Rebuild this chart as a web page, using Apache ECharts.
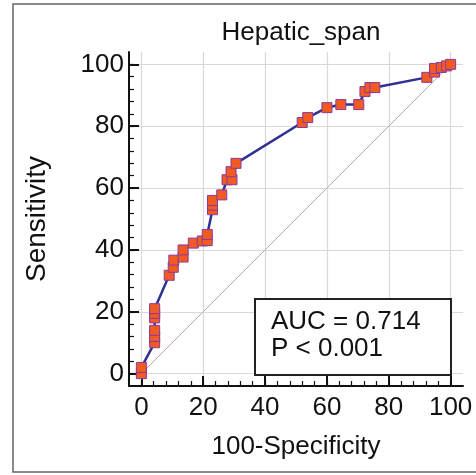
<!DOCTYPE html>
<html>
<head>
<meta charset="utf-8">
<script src="https://cdn.jsdelivr.net/npm/echarts@6/dist/echarts.min.js"></script>
<style>
html,body{margin:0;padding:0;background:#fff;}
#c{width:476px;height:475px;}
</style>
</head>
<body>
<div id="c"></div>
<script>
// ROC curve points (100-Specificity, Sensitivity)
const fpr = [0,0,4.3,4.3,4.3,4.3,4.3,4.3,9,10.3,10.5,13.5,13.5,16.8,19.7,21.3,21.3,23,23,23,26,27.7,29.3,29,30.6,52,53.8,60,64.5,70.3,72.3,73.9,75.5,92.3,94.8,94.8,97,98.7,100];
const tpr = [0,2,10,12,14,18,19.5,21,31.8,34.4,36.7,37.7,40,42.2,42.9,43,45,53,54.5,56,57.8,62.7,62.7,65.3,68,81.2,82.8,86,87,87,91.2,92.5,92.5,95.8,97.5,98.7,99,99.5,100];
const refX = [0,100];
const refY = [0,100];
const majorTicks = [0,20,40,60,80,100];
const minorTicks = [0,4,8,12,16,20,24,28,32,36,40,44,48,52,56,60,64,68,72,76,80,84,88,92,96,100];
const titleText = 'Hepatic_span';
const xName = '100-Specificity';
const yName = 'Sensitivity';
const aucLines = ['AUC = 0.714','P < 0.001'];

const FONT = "'Liberation Sans', Arial, sans-serif";
const chart = echarts.init(document.getElementById('c'));

function axisMajor(dim){
  return {
    type:'value', min:-4, max:104,
    position: dim==='x' ? 'bottom' : 'left',
    axisLine:{show:true,onZero:false,lineStyle:{color:'#111',width:2}},
    axisTick:{show:true,inside:true,length:10,customValues:majorTicks,lineStyle:{color:'#111',width:2}},
    axisLabel:{show:true,customValues:majorTicks,color:'#111',fontSize:26,fontFamily:FONT,margin: dim==='x'?9:5},
    splitLine:{show:true,lineStyle:{color:'#d9d9d9',width:1.2}},
    name: dim==='x'?xName:yName,
    nameLocation:'middle',
    nameGap: dim==='x'?48:78,
    nameTextStyle:{color:'#111',fontSize: dim==='x'?26:28,fontFamily:FONT}
  };
}
function axisMinor(dim){
  return {
    type:'value', min:-4, max:104,
    position: dim==='x' ? 'bottom' : 'left',
    axisLine:{show:false,onZero:false},
    axisTick:{show:true,inside:true,length:5,customValues:minorTicks,lineStyle:{color:'#111',width:1.2}},
    axisLabel:{show:false},
    splitLine:{show:false}
  };
}

const curve = fpr.map((v,i)=>[v,tpr[i]]);
const ref = refX.map((v,i)=>[v,refY[i]]);

chart.setOption({
  animation:false,
  backgroundColor:'#fff',
  title:{text:titleText,left:296,top:15,textAlign:'center',textStyle:{color:'#111',fontSize:26,fontWeight:'normal',fontFamily:FONT}},
  grid:{left:129,right:13,top:52,bottom:89},
  xAxis:[axisMajor('x'),axisMinor('x')],
  yAxis:[axisMajor('y'),axisMinor('y')],
  series:[
    {type:'line',data:ref,xAxisIndex:0,yAxisIndex:0,symbol:'none',lineStyle:{color:'#c0a8ab',width:1},z:1,silent:true},
    {type:'line',data:curve,xAxisIndex:0,yAxisIndex:0,symbol:'rect',symbolSize:10,
     itemStyle:{color:'#f15a22',borderColor:'#8b3a9c',borderWidth:1},
     lineStyle:{color:'#2e3192',width:2.5},z:3}
  ],
  graphic:[
    {type:'rect',shape:{x:13,y:4,width:480,height:468},style:{fill:'none',stroke:'#666',lineWidth:1.5},z:0,silent:true},
    {type:'rect',shape:{x:255,y:299,width:196,height:76},style:{fill:'#fff',stroke:'#222',lineWidth:2},z:10},
    {type:'text',x:271,y:322,style:{text:aucLines[0],fill:'#111',font:"26px "+FONT,textVerticalAlign:'middle'},z:11},
    {type:'text',x:271,y:349,style:{text:aucLines[1],fill:'#111',font:"26px "+FONT,textVerticalAlign:'middle'},z:11}
  ]
});
</script>
</body>
</html>
